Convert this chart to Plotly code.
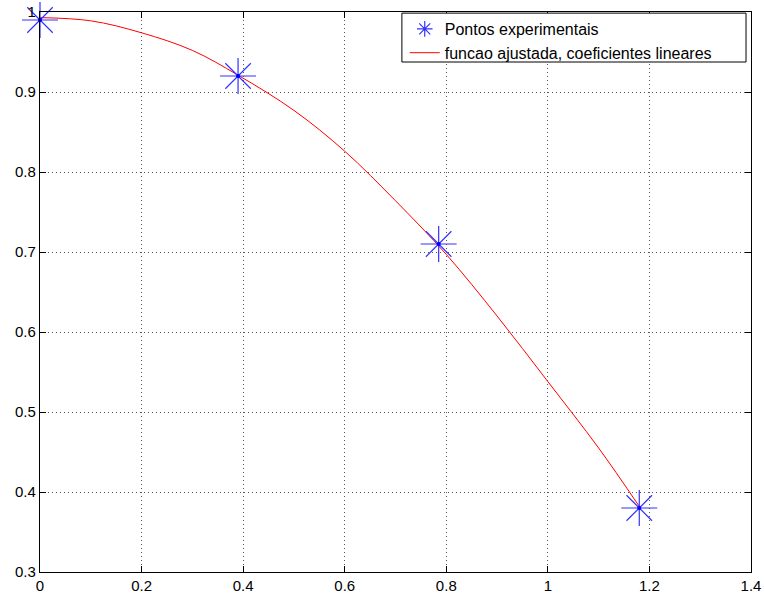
import plotly.graph_objects as go

# Experimental points
x_pts = [0.0, 0.39, 0.785, 1.18]
y_pts = [0.99, 0.92, 0.71, 0.38]

# Fitted curve
x_fit = [0.0, 0.1, 0.2, 0.3, 0.39, 0.5, 0.6, 0.7, 0.8, 0.9, 1.0, 1.1, 1.18]
y_fit = [0.993, 0.989, 0.974, 0.952, 0.921, 0.877, 0.826, 0.764, 0.697, 0.620, 0.538, 0.455, 0.382]

x_ticks = [0, 0.2, 0.4, 0.6, 0.8, 1, 1.2, 1.4]
y_ticks = [0.3, 0.4, 0.5, 0.6, 0.7, 0.8, 0.9, 1]

BLUE = "#3333ff"

fig = go.Figure()
fig.add_trace(go.Scatter(
    x=x_fit, y=y_fit, mode="lines", name="funcao ajustada, coeficientes lineares",
    line=dict(color="#ff0000", width=1, shape="spline"), legendrank=2,
))
fig.add_trace(go.Scatter(
    x=x_pts, y=y_pts, mode="markers", name="Pontos experimentais",
    marker=dict(symbol="asterisk-open", size=30, color=BLUE,
                line=dict(color=BLUE, width=1.2)),
    showlegend=False, cliponaxis=False,
))
# legend entry with a small star (no data drawn)
fig.add_trace(go.Scatter(
    x=[None], y=[None], mode="markers", name="Pontos experimentais",
    marker=dict(symbol="asterisk-open", size=13, color=BLUE,
                line=dict(color=BLUE, width=1.2)),
    legendrank=1,
))
# center dots of the star markers
fig.add_trace(go.Scatter(
    x=x_pts, y=y_pts, mode="markers", showlegend=False, cliponaxis=False,
    marker=dict(symbol="circle", size=4, color="#0000ff"),
))

axis_common = dict(
    showline=True, linecolor="black", linewidth=1.2, mirror="ticks",
    ticks="inside", ticklen=6, tickcolor="black",
    showgrid=True, gridcolor="#555555", griddash="1px,3px", gridwidth=1,
    zeroline=False, automargin=False,
    tickfont=dict(family="Liberation Sans", size=15, color="black"),
)
fig.update_xaxes(range=[0, 1.4], tickvals=x_ticks, ticktext=[str(v) for v in x_ticks], **axis_common)
fig.update_yaxes(range=[0.3, 1.0], tickvals=y_ticks, ticktext=[str(v) for v in y_ticks], **axis_common)

fig.add_shape(type="rect", xref="paper", yref="paper",
              x0=0.509, x1=0.993, y0=0.9107, y1=0.998,
              line=dict(color="black", width=1), fillcolor="white", layer="above")

fig.update_layout(
    width=764, height=603,
    margin=dict(l=40, r=13, t=12, b=31, autoexpand=False),
    paper_bgcolor="white", plot_bgcolor="white",
    font=dict(family="Liberation Sans", size=16, color="black"),
    legend=dict(x=0.513, y=1.0, xanchor="left", yanchor="top",
                bgcolor="rgba(0,0,0,0)", borderwidth=0,
                font=dict(family="Liberation Sans", size=16),
                tracegroupgap=0, itemclick=False, itemdoubleclick=False),
    showlegend=True,
)
fig.write_html("out.html")
